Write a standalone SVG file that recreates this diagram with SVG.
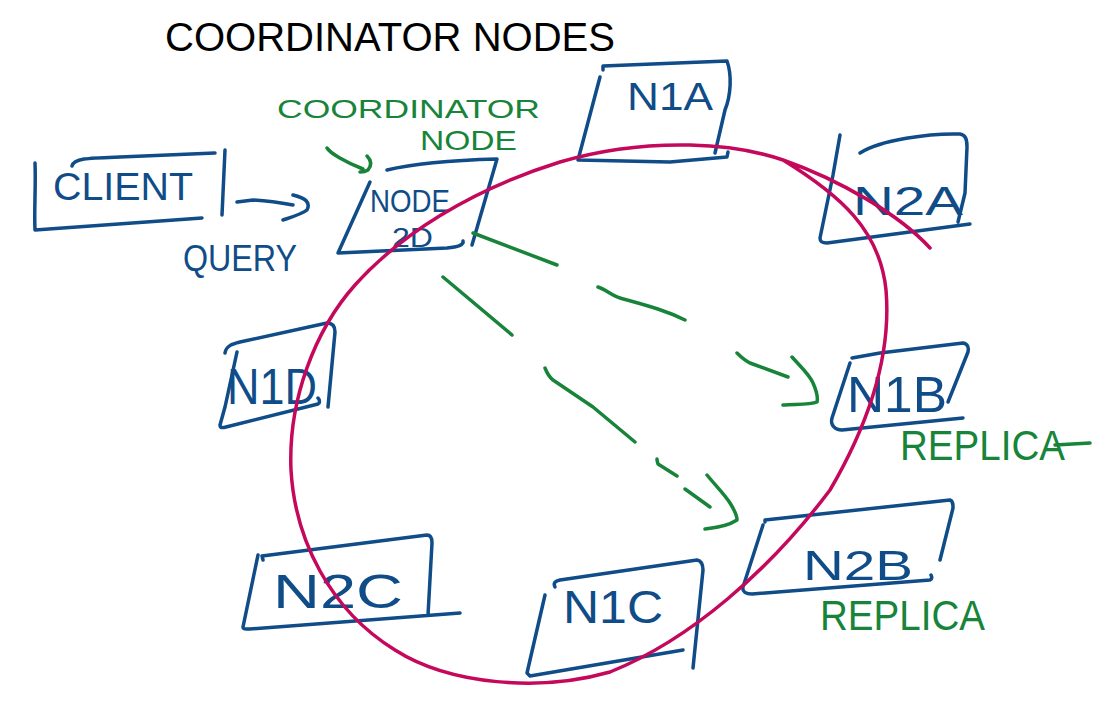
<svg xmlns="http://www.w3.org/2000/svg" width="1097" height="719" viewBox="0 0 1097 719">
<style>
  .box{fill:none;stroke:#0f4c88;stroke-width:3.5;stroke-linecap:round;stroke-linejoin:round}
  .blue{fill:#0f4c88;font-family:"Liberation Sans",Arial,sans-serif}
  .green{fill:#17843a;font-family:"Liberation Sans",Arial,sans-serif}
  .black{fill:#000;font-family:"Liberation Sans",Arial,sans-serif}
  .gl{fill:none;stroke:#17843a;stroke-width:3.5;stroke-linecap:round;stroke-linejoin:round}
  .bl{fill:none;stroke:#0f4c88;stroke-width:3.5;stroke-linecap:round;stroke-linejoin:round}
  .ring{fill:none;stroke:#c4085c;stroke-width:3.5;stroke-linecap:round}
</style>
<rect width="1097" height="719" fill="#fff"/>
<g id="title">
  <text class="black" x="165" y="51" font-size="40" textLength="450" lengthAdjust="spacingAndGlyphs">COORDINATOR NODES</text>
</g>
<g id="coordinator-label">
  <text class="green" x="277" y="118" font-size="25" textLength="263" lengthAdjust="spacingAndGlyphs">COORDINATOR</text>
  <text class="green" x="420" y="150" font-size="28" textLength="97" lengthAdjust="spacingAndGlyphs">NODE</text>
</g>
<g id="client">
  <path class="box" d="M35,163 C36,185 34,210 35,230 L202,218 M72,166 C74,158 90,158 120,157 L215,153 M225,150 L222,215"/>
  <text class="blue" x="53" y="200" font-size="38" textLength="140" lengthAdjust="spacingAndGlyphs">CLIENT</text>
</g>
<g id="query">
  <text class="blue" x="183" y="271" font-size="37" textLength="114" lengthAdjust="spacingAndGlyphs">QUERY</text>
</g>
<g id="node2d">
  <path class="box" d="M387,170 C420,162 460,160 497,159 L472,245 M370,182 L338,253 L447,248 C458,247 464,245 463,241"/>
  <text class="blue" x="370" y="212" font-size="32" textLength="80" lengthAdjust="spacingAndGlyphs">NODE</text>
  <text class="blue" x="392" y="247" font-size="27" textLength="41" lengthAdjust="spacingAndGlyphs">2D</text>
</g>
<g id="n1a">
  <path class="box" d="M603,70 L603,66 L727,61 C732,75 731,95 725,110 L715,153 M600,77 L578,160 L670,162 L727,157 L728,152"/>
  <text class="blue" x="627" y="110" font-size="38" textLength="86" lengthAdjust="spacingAndGlyphs">N1A</text>
</g>
<g id="n2a">
  <path class="box" d="M840,135 L833,175 L820,238 C820,242 822,243 827,243 L970,224 M860,153 C880,140 930,133 960,134 C966,135 967,140 967,147 L965,193 L958,222"/>
  <text class="blue" x="853" y="215" font-size="40" textLength="110" lengthAdjust="spacingAndGlyphs">N2A</text>
</g>
<g id="n1d">
  <path class="box" d="M225,353 C226,346 232,344 240,342 L327,323 C333,323 335,327 335,332 L328,407 M237,352 L225,407 L220,425 C220,428 222,428 226,427 L318,404 C320,403 320,400 318,398"/>
  <text class="blue" x="227" y="404" font-size="50" textLength="90" lengthAdjust="spacingAndGlyphs">N1D</text>
</g>
<g id="n1b">
  <path class="box" d="M852,358 L880,353 L963,343 C968,344 969,348 968,352 L948,402 M850,363 L832,418 C830,425 835,430 842,430 L963,418"/>
  <text class="blue" x="847" y="412" font-size="50" textLength="100" lengthAdjust="spacingAndGlyphs">N1B</text>
  <text class="green" x="900" y="460" font-size="42" textLength="165" lengthAdjust="spacingAndGlyphs">REPLICA</text>
  <path class="gl" d="M1055,445 L1090,443"/>
</g>
<g id="n2b">
  <path class="box" d="M765,522 L765,520 L950,500 C953,501 953,504 953,508 L940,560 M763,525 L743,587 C742,592 746,594 752,594 L930,580 C932,579 932,577 931,575"/>
  <text class="blue" x="803" y="580" font-size="42" textLength="110" lengthAdjust="spacingAndGlyphs">N2B</text>
  <text class="green" x="820" y="630" font-size="42" textLength="165" lengthAdjust="spacingAndGlyphs">REPLICA</text>
</g>
<g id="n2c">
  <path class="box" d="M263,560 L262,556 L427,535 C431,535 432,538 432,543 L428,615 M258,555 L243,627 C243,629 245,629 250,629 L460,613"/>
  <text class="blue" x="273" y="608" font-size="48" textLength="130" lengthAdjust="spacingAndGlyphs">N2C</text>
</g>
<g id="n1c">
  <path class="box" d="M555,587 C553,583 555,581 560,580 L697,560 C702,561 703,565 703,570 L693,668 M545,595 L527,673 L530,676 L683,650"/>
  <text class="blue" x="563" y="623" font-size="46" textLength="100" lengthAdjust="spacingAndGlyphs">N1C</text>
</g>
<g id="ring">
  <path class="ring" d="M783,160 C840,195 880,230 886,290 C892,360 865,430 830,490 C770,570 690,640 610,672 C540,692 450,685 395,650 C330,610 295,540 291,470 C288,400 315,330 355,285 C400,235 470,190 560,162 C600,150 640,144 690,145 C730,146 760,152 783,160 C840,180 900,215 930,248"/>
</g>
<g id="connectors">
  <path class="bl" d="M237,202 L253,200 C270,201 282,203 293,205 M293,195 C305,198 311,202 307,210 C302,214 292,217 283,220"/>
  <path class="gl" d="M327,148 C330,153 345,162 363,169 M367,156 C371,160 372,165 368,170 C365,172 362,172 360,172"/>
  <path class="gl" d="M473,233 L557,265 M598,287 C605,289 612,296 620,298 C645,305 665,310 685,320 M737,353 C742,358 746,361 750,363 L788,377 M792,357 C800,366 810,375 813,383 C817,392 818,398 817,402 C810,405 795,404 783,405"/>
  <path class="gl" d="M443,277 L512,335 M545,368 C547,373 549,377 553,380 L593,407 L635,442 M657,459 C657,462 658,463 658,464 L677,476 M685,489 L710,507 M707,475 C716,486 725,495 730,503 C735,511 737,517 737,520 C728,526 715,528 705,529"/>
</g>
</svg>
